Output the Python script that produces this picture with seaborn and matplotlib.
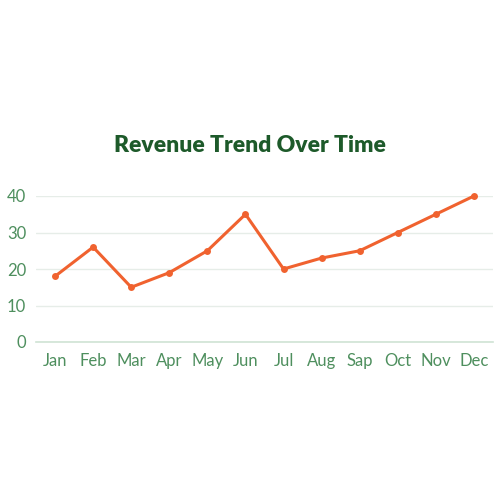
import matplotlib
matplotlib.use("Agg")
import matplotlib.pyplot as plt
import seaborn as sns
import pandas as pd

months = ["Jan", "Feb", "Mar", "Apr", "May", "Jun", "Jul", "Aug", "Sap", "Oct", "Nov", "Dec"]
revenue = [18, 26, 15, 19, 25, 35, 20, 23, 25, 30, 35, 40]
yticks = [0, 10, 20, 30, 40]

df = pd.DataFrame({"month": months, "revenue": revenue})

sns.set_style("white")
plt.rcParams["font.family"] = ["Lato", "DejaVu Sans"]

fig = plt.figure(figsize=(5, 5), dpi=100)
ax = fig.add_axes([0.072, 0.316, 0.914, 0.292])

sns.lineplot(data=df, x="month", y="revenue", ax=ax, color="#f0622f",
             linewidth=2.2, marker="o", markersize=5, markeredgewidth=0, sort=False)
for ln in ax.lines:
    ln.set_clip_on(False)

ax.set_xlim(-0.5, len(months) - 0.5)
ax.set_ylim(0, 40)
ax.set_yticks(yticks)
ax.set_yticklabels([str(v) for v in yticks])
ax.set_xlabel("")
ax.set_ylabel("")
ax.grid(axis="y", color="#e6ede8", linewidth=1)
ax.set_axisbelow(True)
for s in ["top", "right", "left"]:
    ax.spines[s].set_visible(False)
ax.spines["bottom"].set_color("#cfe3d4")
ax.spines["bottom"].set_linewidth(1.2)
ax.tick_params(axis="both", length=0, labelsize=12, labelcolor="#4e8f5e")
ax.tick_params(axis="x", pad=8)
ax.tick_params(axis="y", pad=7)

fig.text(0.5, 0.71, "Revenue Trend Over Time", ha="center", va="center",
         fontsize=16.5, fontweight="heavy", color="#1d5a2a")

fig.savefig("out.png", dpi=100, facecolor="white")
